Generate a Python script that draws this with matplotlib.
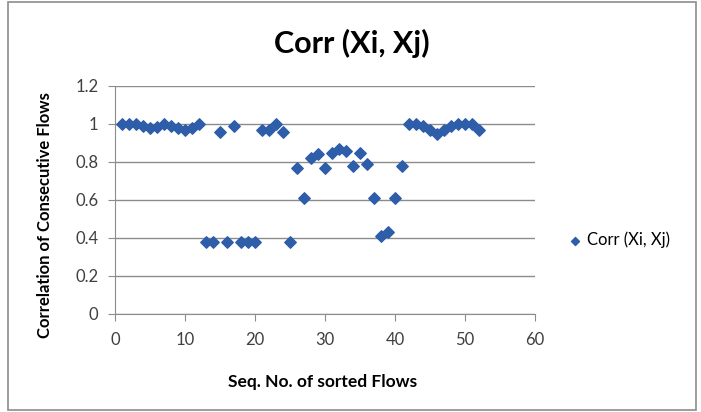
import matplotlib as mpl
mpl.use('Agg')
import matplotlib.pyplot as plt
from matplotlib.patches import Rectangle

# data
seq_no = list(range(1, 53))
corr = [1.00, 1.00, 1.00, 0.99, 0.98, 0.985, 1.00, 0.99, 0.98, 0.97,
        0.98, 1.00, 0.38, 0.38, 0.96, 0.38, 0.99, 0.38, 0.38, 0.38,
        0.97, 0.97, 1.00, 0.96, 0.38, 0.77, 0.61, 0.82, 0.84, 0.77,
        0.85, 0.87, 0.86, 0.78, 0.85, 0.79, 0.61, 0.41, 0.43, 0.61,
        0.78, 1.00, 1.00, 0.99, 0.97, 0.95, 0.97, 0.99, 1.00, 1.00,
        1.00, 0.97]
series_name = 'Corr (Xi, Xj)'
chart_title = 'Corr (Xi, Xj)'

plt.rcParams['font.family'] = ['Lato', 'DejaVu Sans']

fig = plt.figure(figsize=(7.01, 4.12), dpi=100)
fig.patches.append(Rectangle((8/701, 2/412), 688/701, 408/412, transform=fig.transFigure,
                             fill=False, edgecolor='#8c8c8c', linewidth=1.2))

ax = fig.add_axes([115/701, 1 - 314/412, 420/701, 228/412])
ax.scatter(seq_no, corr, marker='D', s=34, color='#2E5DA9', label=series_name, zorder=3)

ax.set_xlim(0, 60)
ax.set_ylim(0, 1.2)
ax.set_xticks(range(0, 61, 10))
ax.set_yticks([0, 0.2, 0.4, 0.6, 0.8, 1.0, 1.2])
ax.set_yticklabels(['0', '0.2', '0.4', '0.6', '0.8', '1', '1.2'])
ax.grid(axis='y', color='#8c8c8c', linewidth=1)
ax.set_axisbelow(True)
for s in ['top', 'right']:
    ax.spines[s].set_visible(False)
for s in ['left', 'bottom']:
    ax.spines[s].set_color('#8c8c8c')
ax.tick_params(colors='#8c8c8c', labelcolor='#404040', labelsize=12, length=5)
ax.tick_params(axis='x', pad=8)
ax.tick_params(axis='y', pad=7)

fig.text(352/701, 1 - 43/412, chart_title, fontsize=22, fontweight='bold',
         ha='center', va='center')
fig.text(323/701, 1 - 382/412, 'Seq. No. of sorted Flows', fontsize=12.5,
         fontweight='bold', ha='center', va='center')
fig.text(45/701, 1 - 215/412, 'Correlation of Consecutive Flows', fontsize=12,
         fontweight='bold', ha='center', va='center', rotation=90)

fig.legend(handles=ax.collections, labels=[series_name], loc='center left',
           bbox_to_anchor=(552/701, 1 - 240/412), frameon=False, fontsize=12,
           handletextpad=-0.3, markerscale=0.7, borderaxespad=0)

fig.savefig('out.png', dpi=100)
